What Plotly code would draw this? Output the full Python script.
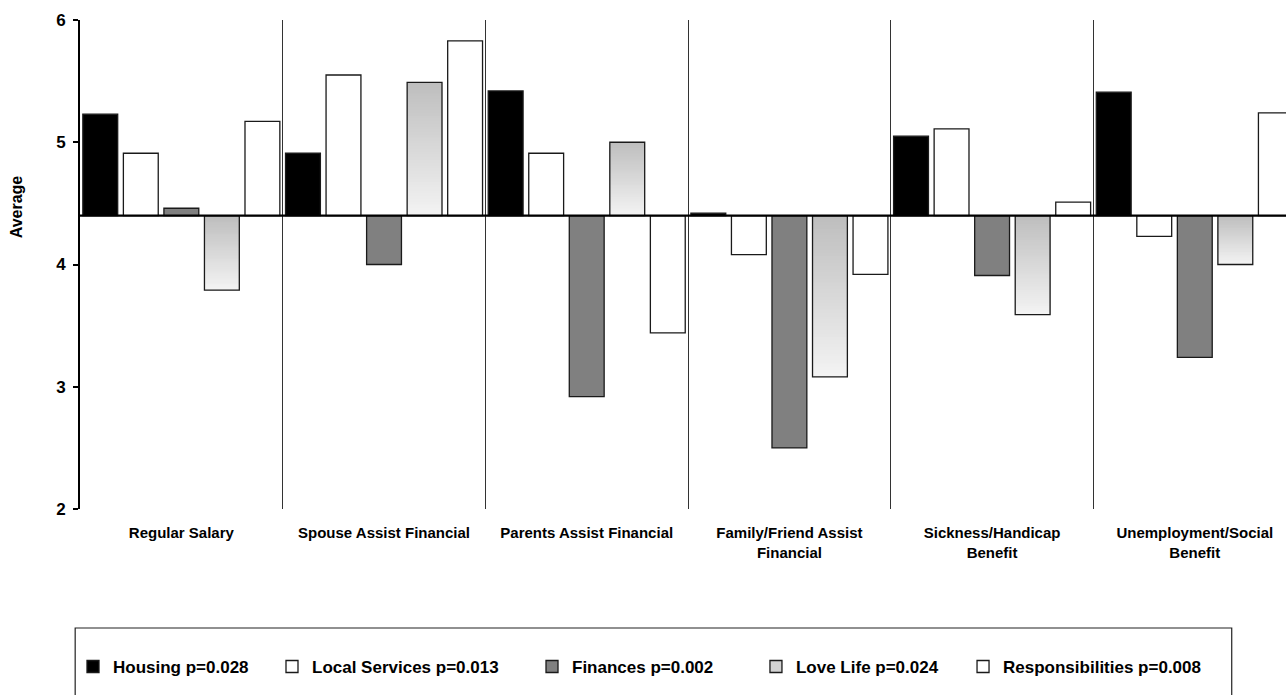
import plotly.graph_objects as go

# ---- data -------------------------------------------------------------
categories = [
    "Regular Salary",
    "Spouse Assist Financial",
    "Parents Assist Financial",
    "Family/Friend Assist<br>Financial",
    "Sickness/Handicap<br>Benefit",
    "Unemployment/Social<br>Benefit",
]
housing = [5.23, 4.91, 5.42, 4.42, 5.05, 5.41]
local_services = [4.91, 5.55, 4.91, 4.08, 5.11, 4.23]
finances = [4.46, 4.00, 2.92, 2.50, 3.91, 3.24]
love_life = [3.79, 5.49, 5.00, 3.08, 3.59, 4.00]
responsibilities = [5.17, 5.83, 3.44, 3.92, 4.51, 5.24]

series_labels = [
    "Housing p=0.028",
    "Local Services p=0.013",
    "Finances p=0.002",
    "Love Life p=0.024",
    "Responsibilities p=0.008",
]
y_ticks = [2, 3, 4, 5, 6]
BASELINE = 4.4  # bars grow up/down from the overall average

FONT = "Liberation Sans, Arial, sans-serif"
EDGE = "#1a1a1a"

fig = go.Figure()


def plain_bar(values, name, fill, group, legend_id):
    fig.add_trace(go.Bar(
        x=categories,
        y=[v - BASELINE for v in values],
        base=BASELINE,
        name=name,
        offsetgroup=group,
        legend=legend_id,
        marker=dict(color=fill, line=dict(color=EDGE, width=1.3)),
        hoverinfo="skip",
    ))


plain_bar(housing, series_labels[0], "#000000", "a", "legend")
plain_bar(local_services, series_labels[1], "#ffffff", "b", "legend2")
plain_bar(finances, series_labels[2], "#808080", "c", "legend3")

# Love Life: vertical grey gradient. Each layer spans from the bar's lower
# end up to its own upper edge and is painted over the previous (darker) one.
N_SLICES = 48
top_grey, bottom_grey = 190, 243
lows = [min(v, BASELINE) for v in love_life]
highs = [max(v, BASELINE) for v in love_life]
for k in range(N_SLICES):
    t = k / (N_SLICES - 1)
    g = round(top_grey + (bottom_grey - top_grey) * t)
    step = [(h - l) / N_SLICES for l, h in zip(lows, highs)]
    fig.add_trace(go.Bar(
        x=categories,
        y=[(h - k * s) - l for l, h, s in zip(lows, highs, step)],
        base=lows,
        offsetgroup="d",
        showlegend=False,
        marker=dict(color=f"rgb({g},{g},{g})", line=dict(width=0)),
        hoverinfo="skip",
    ))
# outline drawn over the gradient
fig.add_trace(go.Bar(
    x=categories,
    y=[v - BASELINE for v in love_life],
    base=BASELINE,
    offsetgroup="d",
    showlegend=False,
    marker=dict(color="rgba(0,0,0,0)", line=dict(color=EDGE, width=1.3)),
    hoverinfo="skip",
))
# legend entry for the gradient series
fig.add_trace(go.Bar(
    x=[None], y=[None],
    name=series_labels[3],
    offsetgroup="d",
    legend="legend4",
    marker=dict(color="#d2d2d2", line=dict(color=EDGE, width=1.3)),
))

plain_bar(responsibilities, series_labels[4], "#ffffff", "e", "legend5")

# ---- layout -----------------------------------------------------------
legend_font = dict(family=FONT, size=17, weight="bold")
legend_x = [-0.0058, 0.1592, 0.3748, 0.5605, 0.7322]
legend_common = dict(
    orientation="h",
    xanchor="left",
    y=-0.323, yanchor="middle",
    bgcolor="rgba(0,0,0,0)",
    borderwidth=0,
    font=legend_font,
    itemclick=False,
    itemdoubleclick=False,
)

fig.update_layout(
    width=1286,
    height=695,
    margin=dict(l=80, r=0, t=20, b=186),
    paper_bgcolor="white",
    plot_bgcolor="white",
    barmode="group",
    bargap=0.0,
    bargroupgap=0.14,
    font=dict(family=FONT, color="black"),
    showlegend=True,
    legend=dict(x=legend_x[0], **legend_common),
    legend2=dict(x=legend_x[1], **legend_common),
    legend3=dict(x=legend_x[2], **legend_common),
    legend4=dict(x=legend_x[3], **legend_common),
    legend5=dict(x=legend_x[4], **legend_common),
    xaxis=dict(
        type="category",
        range=[-0.5, 5.45],
        showline=False,
        ticks="",
        tickson="boundaries",
        showgrid=True,
        gridcolor="#333333",
        gridwidth=1,
        tickangle=0,
        ticklabelstandoff=13,
        tickfont=dict(family=FONT, size=15, weight="bold"),
        zeroline=False,
    ),
    yaxis=dict(
        range=[2, 6],
        tickvals=y_ticks,
        showline=True,
        linecolor="black",
        linewidth=2,
        ticks="outside",
        ticklen=5,
        tickwidth=2,
        tickcolor="black",
        ticklabelstandoff=4,
        showgrid=False,
        zeroline=False,
        tickfont=dict(family=FONT, size=17, weight="bold"),
    ),
    annotations=[
        dict(text="Average", textangle=-90, showarrow=False,
             xref="paper", x=-0.052, xanchor="center",
             yref="paper", y=0.6176, yanchor="middle",
             font=dict(family=FONT, size=16, weight="bold")),
    ],
    shapes=[
        # reference line at the baseline average
        dict(type="line", xref="paper", x0=0, x1=1, yref="y",
             y0=BASELINE, y1=BASELINE,
             line=dict(color="black", width=2.2), layer="above"),
        # frame around the legend row
        dict(type="rect", xref="paper", yref="paper",
             x0=-0.004, x1=0.955, y0=-0.42, y1=-0.2434,
             line=dict(color="#222222", width=1.2), fillcolor="rgba(0,0,0,0)"),
    ],
)

fig.write_html("out.html")
